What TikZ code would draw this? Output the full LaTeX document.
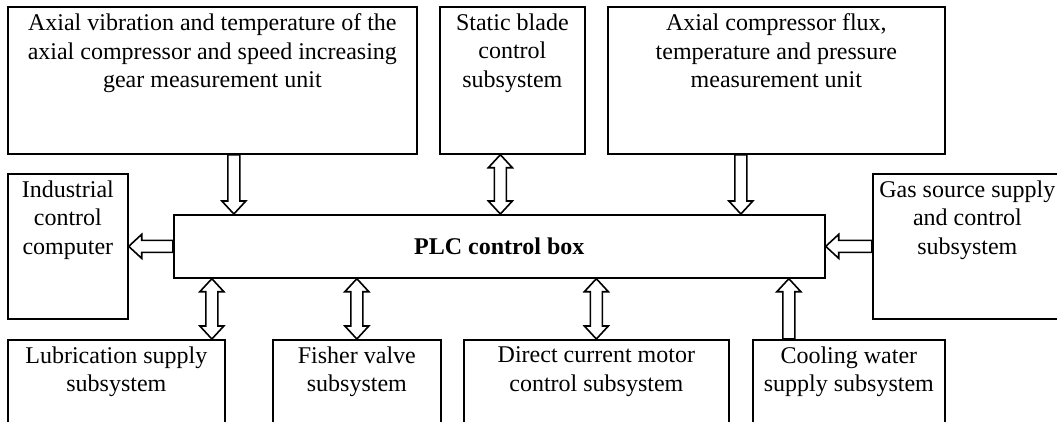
\documentclass[tikz,border=0pt]{standalone}
\usepackage{fontspec}
\setmainfont{Liberation Serif}
\usepackage{tikz}
\usetikzlibrary{calc}
\usetikzlibrary{positioning}

\begin{document}
\begin{tikzpicture}
    [
    x=1pt, y=-1pt,
    box/.style={draw,line width=1.7pt,inner sep=0pt,anchor=north west,font=\fontsize{24}{28.5}\selectfont},
    txt/.style={anchor=north,align=center,inner sep=7.5pt,font=\fontsize{24}{28.5}\selectfont},
    fatone/.style={line width=1.6pt,to path={
      let \p1=(\tikztostart), \p2=(\tikztotarget), \p3=($(\p2)!13pt!(\p1)$) in
      ($(\p1)!6pt!90:(\p2)$) -- ($(\p3)!6pt!90:(\p2)$) -- ($(\p3)!12pt!90:(\p2)$) -- (\p2)
      -- ($(\p3)!12pt!-90:(\p2)$) -- ($(\p3)!6pt!-90:(\p2)$) -- ($(\p1)!6pt!-90:(\p2)$) -- cycle}},
    fattwo/.style={line width=1.6pt,to path={
      let \p1=(\tikztostart), \p2=(\tikztotarget), \p3=($(\p2)!13pt!(\p1)$), \p4=($(\p1)!13pt!(\p2)$) in
      (\p1) -- ($(\p4)!12pt!90:(\p2)$) -- ($(\p4)!6pt!90:(\p2)$) -- ($(\p3)!6pt!90:(\p2)$) -- ($(\p3)!12pt!90:(\p2)$) -- (\p2)
      -- ($(\p3)!12pt!-90:(\p2)$) -- ($(\p3)!6pt!-90:(\p2)$) -- ($(\p4)!6pt!-90:(\p2)$) -- ($(\p4)!12pt!-90:(\p2)$) -- cycle}},
    ]
    \useasboundingbox (0,0) rectangle (1057,421);
    \clip (0,0) rectangle (1057,421);

    \node (axv) at (7,6) [box, minimum width=409pt, minimum height=147pt,
      label={[txt]north:Axial vibration and temperature of the\\axial compressor and speed increasing\\gear measurement unit}] {};
    \node (sbc) at (439,6) [box, minimum width=145pt, minimum height=147pt,
      label={[txt]north:Static blade\\control\\subsystem}] {};
    \node (acf) at (607,6) [box, minimum width=337pt, minimum height=147pt,
      label={[txt]north:Axial compressor flux,\\temperature and pressure\\measurement unit}] {};
    \node (icc) at (7,173) [box, minimum width=120pt, minimum height=145pt,
      label={[txt]north:Industrial\\control\\computer}] {};
    \node (plc) at (173,214) [box, minimum width=651pt, minimum height=63pt] {\textbf{PLC control box}};
    \node (gas) at (872,173) [box, minimum width=189pt, minimum height=145pt,
      label={[txt]north:Gas source supply\\and control\\subsystem}] {};
    \node (lub) at (7,339) [box, minimum width=217pt, minimum height=101pt,
      label={[txt]north:Lubrication supply\\subsystem}] {};
    \node (fis) at (272,339) [box, minimum width=168pt, minimum height=101pt,
      label={[txt]north:Fisher valve\\subsystem}] {};
    \node (dcm) at (463,339) [box, minimum width=265pt, minimum height=101pt,
      label={[txt]north:Direct current motor\\control subsystem}] {};
    \node (cws) at (752,339) [box, minimum width=192pt, minimum height=101pt,
      label={[txt]north:Cooling water\\supply subsystem}] {};

    \draw [fatone] ([xshift=21.5pt]axv.south) to ([xshift=21.5pt]axv.south |- plc.north);
    \draw [fattwo] ([xshift=-12pt]sbc.south) to ([xshift=-12pt]sbc.south |- plc.north);
    \draw [fatone] ([xshift=-35.5pt]acf.south) to ([xshift=-35.5pt]acf.south |- plc.north);
    \draw [fatone] (plc.west) to (plc.west -| icc.east);
    \draw [fatone] (gas.west) to (gas.west -| plc.east);
    \draw [fattwo] ([xshift=95.5pt]lub.north |- plc.south) to ([xshift=95.5pt]lub.north);
    \draw [fattwo] (fis.north |- plc.south) to (fis.north);
    \draw [fattwo] (dcm.north |- plc.south) to (dcm.north);
    \draw [fatone] ([xshift=-60pt]cws.north) to ([xshift=-60pt]cws.north |- plc.south);
  \end{tikzpicture}
\end{document}
